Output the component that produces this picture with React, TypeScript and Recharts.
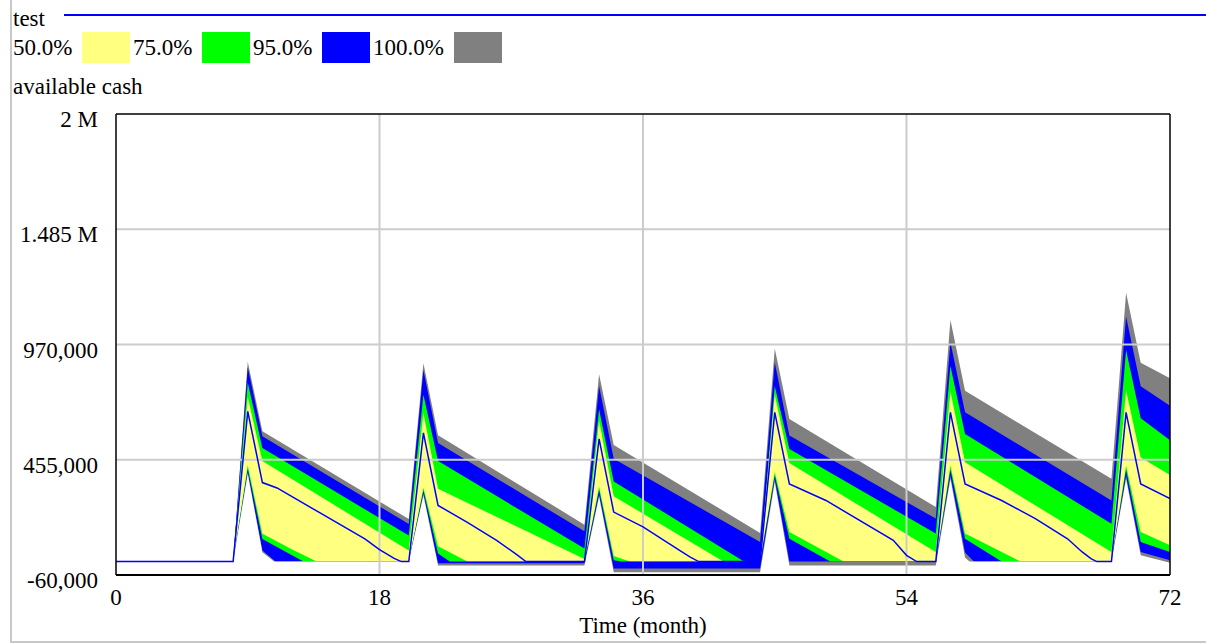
import { Area, ComposedChart, Line, ReferenceLine, XAxis, YAxis } from "recharts";

type Pt = [number, number];

// available cash in thousands, as [month, value] breakpoints
const grayHigh: Pt[] = [
  [0, 0], [8, 0], [9, 893], [10, 582], [20, 190], [21, 886], [22, 565], [32, 165],
  [33, 837], [34, 521], [44, 128], [45, 952], [46, 637], [56, 244], [57, 1079],
  [58, 763], [68, 370], [69, 1201], [70, 889], [72, 819],
];
const blueHigh: Pt[] = [
  [0, 0], [8, 0], [9, 868], [10, 560], [20, 168], [21, 856], [22, 530], [32, 135],
  [33, 785], [34, 459], [44, 88], [45, 891], [46, 563], [56, 192], [57, 980],
  [58, 667], [68, 273], [69, 1095], [70, 783], [72, 696],
];
const greenHigh: Pt[] = [
  [0, 0], [8, 0], [9, 800], [10, 508], [20, 116], [21, 745], [22, 449], [32, 58],
  [33, 681], [34, 358], [42.9, 0], [44, 0], [45, 785], [46, 503], [56, 125],
  [57, 874], [58, 570], [68, 169], [69, 945], [70, 640], [72, 542],
];
const yellowHigh: Pt[] = [
  [0, 0], [8, 0], [9, 735], [10, 449], [20, 50], [21, 664], [22, 325], [32, 12],
  [33, 629], [34, 292], [41.5, 0], [44, 0], [45, 745], [46, 440], [56, 43],
  [57, 760], [58, 444], [68, 43], [69, 765], [70, 465], [72, 387],
];
const yellowLow: Pt[] = [
  [0, 0], [8, 0], [9, 430], [10, 124], [12, 55], [13.7, 0], [20, 0], [21, 330],
  [22, 68], [24, 0], [32, 0], [33, 335], [34, 25], [35.1, 0], [44, 0], [45, 400],
  [46, 132], [49.7, 0], [56, 0], [57, 429], [58, 125], [61.8, 0], [68, 0],
  [69, 429], [70, 132], [72, 73],
];
const greenLow: Pt[] = [
  [0, 0], [8, 0], [9, 415], [10, 101], [12.8, 0], [20, 0], [21, 318], [22, 36],
  [22.8, 0], [32, 0], [33, 320], [34, 6], [34.5, 0], [44, 0], [45, 385], [46, 102],
  [48.8, 0], [56, 0], [57, 410], [58, 102], [60.5, 0], [68, 0], [69, 410],
  [70, 88], [72, 43],
];
const blueLow: Pt[] = [
  [0, 0], [8, 0], [9, 400], [10, 50], [10.9, 0], [20, 0], [21, 305], [22, -8],
  [32, -8], [33, 300], [34, -31], [44, -31], [45, 370], [46, 0], [56, 0], [57, 385],
  [58, 40], [58.6, 0], [68, 0], [69, 384], [70, 43], [72, 6],
];
const grayLow: Pt[] = [
  [0, 0], [8, 0], [9, 392], [10, 42], [10.8, 0], [20, 0], [21, 295], [22, -18],
  [32, -18], [33, 290], [34, -48], [44, -48], [45, 355], [46, -17], [56, -17],
  [57, 370], [58, 18], [58.3, 0], [68, 0], [69, 370], [70, 28], [72, -5],
];
const testRun: Pt[] = [
  [0, 0], [8, 0], [9, 671], [10, 353], [11, 329], [14, 215], [17, 101], [18, 53],
  [19, 14], [19.5, 0], [20, 0], [21, 575], [22, 251], [24, 175], [26, 95],
  [27.4, 30], [28, 0], [32, 0], [33, 548], [34, 221], [36, 155], [38.5, 50],
  [39.2, 21], [39.8, 0], [44, 0], [45, 667], [46, 347], [48.5, 273], [53.1, 95],
  [54, 28], [54.7, 0], [56, 0], [57, 667], [58, 347], [60.5, 273], [62.8, 192],
  [65, 102], [66, 43], [66.6, 13], [67, 0], [68, 0], [69, 667], [70, 347], [72, 281],
];

const timeTicks = [0, 18, 36, 54, 72];
const cashTicks = [-60, 455, 970, 1485, 2000];
const cashTickLabels = ["-60,000", "455,000", "970,000", "1.485 M", "2 M"];

const legendItems = [
  { label: "50.0%", color: "#ffff80" },
  { label: "75.0%", color: "#00ff00" },
  { label: "95.0%", color: "#0000ff" },
  { label: "100.0%", color: "#808080" },
];

const FONT = '"Liberation Serif", "Times New Roman", serif';
const GRID = "#cccccc";

const rows = (pts: Pt[]) => pts.map(([t, v]) => ({ t, v }));

// outer bounds filled downward, inner bounds painted over them
const layers: { pts: Pt[]; fill: string }[] = [
  { pts: grayHigh, fill: "#808080" },
  { pts: blueHigh, fill: "#0000ff" },
  { pts: greenHigh, fill: "#00ff00" },
  { pts: yellowHigh, fill: "#ffff80" },
  { pts: yellowLow, fill: "#00ff00" },
  { pts: greenLow, fill: "#0000ff" },
  { pts: blueLow, fill: "#808080" },
  { pts: grayLow, fill: "#ffffff" },
];

function CashTick(props: any) {
  const { y, payload } = props;
  return (
    <text x={98} y={y + 13} textAnchor="end" fontFamily={FONT} fontSize={23} fill="#000">
      {cashTickLabels[cashTicks.indexOf(payload.value)]}
    </text>
  );
}

function TimeTick(props: any) {
  const { x, payload } = props;
  return (
    <text x={x} y={605} textAnchor="middle" fontFamily={FONT} fontSize={23} fill="#000">
      {payload.value}
    </text>
  );
}

export default function App() {
  return (
    <div
      style={{
        position: "absolute",
        left: 0,
        top: 0,
        width: 1206,
        height: 644,
        background: "#fff",
        overflow: "hidden",
        fontFamily: FONT,
        color: "#000",
      }}
    >
      <div style={{ position: "absolute", left: 0, top: 0 }}>
        <ComposedChart width={1206} height={644} margin={{ top: 114, right: 36, bottom: 0, left: 16 }}>
          <XAxis
            type="number"
            dataKey="t"
            domain={[0, 72]}
            ticks={timeTicks}
            allowDataOverflow
            tickLine={false}
            axisLine={false}
            tickSize={0}
            tickMargin={0}
            height={69}
            tick={<TimeTick />}
            label={{
              value: "Time (month)",
              position: "insideBottom",
              offset: 11,
              fill: "#000",
              fontSize: 23,
              fontFamily: FONT,
            }}
          />
          <YAxis
            type="number"
            domain={[-60, 2000]}
            ticks={cashTicks}
            allowDataOverflow
            tickLine={false}
            axisLine={false}
            width={100}
            tick={<CashTick />}
          />
          {layers.map((layer, i) => (
            <Area
              key={i}
              data={rows(layer.pts)}
              dataKey="v"
              type="linear"
              baseValue="dataMin"
              fill={layer.fill}
              fillOpacity={1}
              stroke="none"
              dot={false}
              activeDot={false}
              isAnimationActive={false}
            />
          ))}
          {cashTicks.slice(1, 4).map((v) => (
            <ReferenceLine key={`h${v}`} y={v} stroke={GRID} strokeWidth={2} zIndex={150} />
          ))}
          {timeTicks.slice(1, 4).map((t) => (
            <ReferenceLine key={`v${t}`} x={t} stroke={GRID} strokeWidth={2} zIndex={150} />
          ))}
          <Line
            data={rows(testRun)}
            dataKey="v"
            type="linear"
            stroke="#0000ff"
            strokeWidth={1.5}
            dot={false}
            activeDot={false}
            isAnimationActive={false}
          />
          <ReferenceLine x={0} stroke="#000" strokeWidth={1.5} zIndex={600} />
          <ReferenceLine x={72} stroke="#000" strokeWidth={1.5} zIndex={600} />
          <ReferenceLine y={2000} stroke="#000" strokeWidth={1.5} zIndex={600} />
          <ReferenceLine y={-60} stroke="#000" strokeWidth={2} zIndex={600} />
        </ComposedChart>
      </div>

      <div style={{ position: "absolute", left: 10, top: 0, width: 2, height: 643, background: "#c8c8c8" }} />
      <div style={{ position: "absolute", left: 10, top: 641, width: 1196, height: 2, background: "#c8c8c8" }} />

      <div style={{ position: "absolute", left: 13, top: 7, fontSize: 23, lineHeight: "23px" }}>test</div>
      <div style={{ position: "absolute", left: 64, top: 14, width: 1142, height: 2, background: "#0000ff" }} />

      <div style={{ position: "absolute", left: 13, top: 32, height: 31, display: "flex", alignItems: "center" }}>
        {legendItems.map((item) => (
          <div key={item.label} style={{ display: "flex", alignItems: "center" }}>
            <span style={{ fontSize: 23, lineHeight: "23px", marginRight: 9.6 }}>{item.label}</span>
            <span style={{ width: 48, height: 31, background: item.color, marginRight: 3 }} />
          </div>
        ))}
      </div>

      <div style={{ position: "absolute", left: 13, top: 75, fontSize: 23, lineHeight: "23px" }}>available cash</div>
    </div>
  );
}
